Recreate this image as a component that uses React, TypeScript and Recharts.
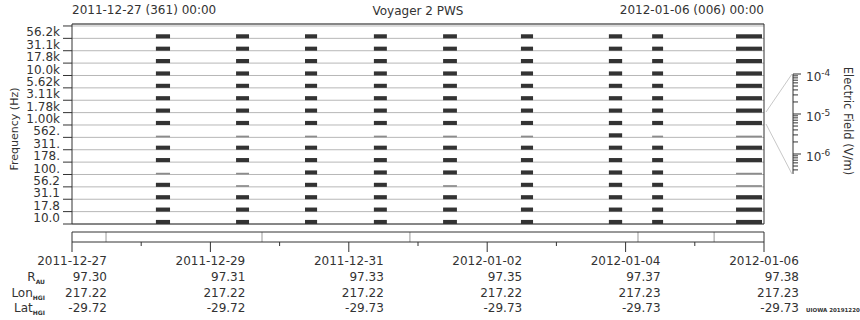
import {
  ComposedChart,
  XAxis,
  YAxis,
  CartesianGrid,
  ReferenceArea,
  ReferenceLine,
} from "recharts";

// frequency channels, bottom (index 0) to top
const freqLabels = [
  "10.0", "17.8", "31.1", "56.2", "100.", "178.", "311.", "562.",
  "1.00k", "1.78k", "3.11k", "5.62k", "10.0k", "17.8k", "31.1k", "56.2k",
];

// observation blocks, hours after 2011-12-27 00:00
const obsStart = [29.1, 56.9, 80.8, 104.7, 128.7, 155.7, 186.2, 201.2, 230.3];
const obsEnd = [34.0, 61.4, 85.0, 109.2, 133.5, 159.9, 190.8, 205.0, 239.3];
// channels that are only weakly filled in each block
const faintChannels = [[7, 4], [7, 4, 3], [7], [7], [7, 3], [7], [], [7], [7, 4, 3]];

// mode change markers in the lower strip
const modeChanges = [11.8, 65.9, 117.2, 196.3, 222.7];

// ephemeris rows
const dateLabels = ["2011-12-27", "2011-12-29", "2011-12-31", "2012-01-02", "2012-01-04", "2012-01-06"];
const rAU = ["97.30", "97.31", "97.33", "97.35", "97.37", "97.38"];
const lonHGI = ["217.22", "217.22", "217.22", "217.22", "217.23", "217.23"];
const latHGI = ["-29.72", "-29.72", "-29.73", "-29.73", "-29.73", "-29.73"];

const dayTicks = [0, 24, 48, 72, 96, 120, 144, 168, 192, 216, 240];

// colour bar axis (V/m)
const fieldDomain = [3.16e-7, 1e-4];
const fieldTicks = [
  1e-4, 9e-5, 8e-5, 7e-5, 6e-5, 5e-5, 4e-5, 3e-5, 2e-5,
  1e-5, 9e-6, 8e-6, 7e-6, 6e-6, 5e-6, 4e-6, 3e-6, 2e-6,
  1e-6, 9e-7, 8e-7, 7e-7, 6e-7, 5e-7, 4e-7,
];

const FONT = "'DejaVu Sans', sans-serif";
const INK = "#333";
const GRID = "#b8b8b8";
const Y_TOP = 16.16;
const PLOT_H = 200;
const CH = PLOT_H / Y_TOP;

function FreqTick({ x, y, payload }: any) {
  const i = payload.value as number;
  if (i >= freqLabels.length) return null;
  return (
    <text x={x} y={y - CH / 2} dy="0.36em" textAnchor="end" fontSize={12} fontFamily={FONT} fill={INK}>
      {freqLabels[i]}
    </text>
  );
}

function TimeTick({ x, y, payload }: any) {
  const v = payload.value as number;
  const major = v % 48 === 0;
  if (!major) return <line x1={x} x2={x} y1={y} y2={y + 4} stroke={INK} />;
  const k = v / 48;
  const tx = { fontSize: 12, fontFamily: FONT, fill: INK };
  return (
    <g>
      <line x1={x} x2={x} y1={y} y2={y + 10} stroke={INK} />
      <text x={x} y={y + 23} textAnchor="middle" {...tx}>{dateLabels[k]}</text>
      <text x={x + 35} y={y + 39} textAnchor="end" {...tx}>{rAU[k]}</text>
      <text x={x + 35} y={y + 54.7} textAnchor="end" {...tx}>{lonHGI[k]}</text>
      <text x={x + 35} y={y + 69.7} textAnchor="end" {...tx}>{latHGI[k]}</text>
    </g>
  );
}

function FieldTick({ x, y, payload }: any) {
  const v = payload.value as number;
  const lg = Math.log10(v);
  const decade = Math.abs(lg - Math.round(lg)) < 1e-6;
  return (
    <g>
      <line x1={x} x2={x + (decade ? 8 : 5)} y1={y} y2={y} stroke={INK} />
      {decade && (
        <text x={x + 13} y={y + 7.4} fontSize={12} fontFamily={FONT} fill={INK}>
          10
          <tspan dy={-5} fontSize={9}>{Math.round(lg)}</tspan>
        </text>
      )}
    </g>
  );
}

function Spectrogram() {
  return (
    <ComposedChart width={860} height={232} data={[]} margin={{ top: 24, right: 96, bottom: 8, left: 32 }}>
      <XAxis type="number" dataKey="t" domain={[0, 240]} hide allowDataOverflow />
      <YAxis
        type="number"
        domain={[0, Y_TOP]}
        ticks={Array.from({ length: 17 }, (_, i) => i)}
        interval={0}
        allowDataOverflow
        width={40}
        tickSize={9}
        tickMargin={3}
        tick={<FreqTick />}
        axisLine={{ stroke: INK }}
        tickLine={{ stroke: INK }}
      />
      <CartesianGrid vertical={false} stroke={GRID} />
      {obsStart.map((s, c) =>
        freqLabels.map((_, ch) => {
          const faint = faintChannels[c].includes(ch);
          return (
            <ReferenceArea
              key={`${c}-${ch}`}
              x1={s}
              x2={obsEnd[c]}
              y1={ch}
              y2={ch + (faint ? 0.14 : 0.33)}
              fill={faint ? "#8c8c8c" : INK}
              fillOpacity={1}
              stroke="none"
            />
          );
        })
      )}
      <ReferenceLine y={0} stroke={INK} />
      <ReferenceLine y={Y_TOP} stroke={INK} />
      <ReferenceLine x={240} stroke={INK} />
    </ComposedChart>
  );
}

function ModeStrip() {
  return (
    <ComposedChart width={860} height={320} data={[]} margin={{ top: 232, right: 96, bottom: 0, left: 72 }}>
      <XAxis
        type="number"
        dataKey="t"
        domain={[0, 240]}
        allowDataOverflow
        ticks={dayTicks}
        interval={0}
        height={78}
        tickSize={0}
        tickMargin={0}
        tickLine={false}
        tick={<TimeTick />}
        axisLine={{ stroke: INK }}
      />
      <YAxis type="number" domain={[0, 1]} allowDataOverflow hide />
      {modeChanges.map((m) => (
        <ReferenceLine key={m} x={m} stroke="#999" />
      ))}
      <ReferenceLine y={1} stroke={INK} />
      <ReferenceLine x={0} stroke={INK} />
      <ReferenceLine x={240} stroke={INK} />
    </ComposedChart>
  );
}

function ColorBar() {
  return (
    <ComposedChart width={77} height={320} data={[]} margin={{ top: 74, right: 0, bottom: 146, left: 0 }}>
      <XAxis type="number" dataKey="t" domain={[0, 1]} allowDataOverflow hide />
      <YAxis
        orientation="right"
        type="number"
        scale="log"
        domain={fieldDomain}
        ticks={fieldTicks}
        interval={0}
        allowDataOverflow
        width={67}
        tickSize={0}
        tickMargin={0}
        tickLine={false}
        tick={<FieldTick />}
        axisLine={{ stroke: INK }}
      />
    </ComposedChart>
  );
}

export default function App() {
  const txt = { fontFamily: FONT, fill: INK };
  return (
    <div style={{ position: "absolute", left: 0, top: 0, width: 860, height: 320, background: "#fff" }}>
      <div style={{ position: "absolute", left: 0, top: 0 }}>
        <Spectrogram />
      </div>
      <div style={{ position: "absolute", left: 0, top: 0 }}>
        <ModeStrip />
      </div>
      <div style={{ position: "absolute", left: 783, top: 0 }}>
        <ColorBar />
      </div>
      <svg width={860} height={320} style={{ position: "absolute", left: 0, top: 0, pointerEvents: "none" }}>
        <text x={72} y={14} fontSize={12} {...txt}>2011-12-27 (361) 00:00</text>
        <text x={418} y={15} fontSize={12} textAnchor="middle" {...txt}>Voyager 2 PWS</text>
        <text x={764} y={14} fontSize={12} textAnchor="end" {...txt}>2012-01-06 (006) 00:00</text>
        <text transform="translate(18,129) rotate(-90)" fontSize={11} textAnchor="middle" {...txt}>Frequency (Hz)</text>
        <text transform="translate(844,121) rotate(90)" fontSize={11.5} textAnchor="middle" {...txt}>Electric Field (V/m)</text>
        <line x1={766} y1={112} x2={792} y2={74} stroke="#c8c8c8" />
        <line x1={766} y1={124} x2={792} y2={174} stroke="#c8c8c8" />
        <text x={45} y={281} fontSize={12} textAnchor="end" {...txt}>
          R<tspan dy={3} fontSize={6} fontWeight="bold">AU</tspan>
        </text>
        <text x={45} y={296.7} fontSize={12} textAnchor="end" {...txt}>
          Lon<tspan dy={3} fontSize={6} fontWeight="bold">HGI</tspan>
        </text>
        <text x={45} y={311.7} fontSize={12} textAnchor="end" {...txt}>
          Lat<tspan dy={3} fontSize={6} fontWeight="bold">HGI</tspan>
        </text>
        <text x={806} y={312} fontSize={5.5} fontWeight="bold" {...txt}>UIOWA 20191220</text>
      </svg>
    </div>
  );
}
